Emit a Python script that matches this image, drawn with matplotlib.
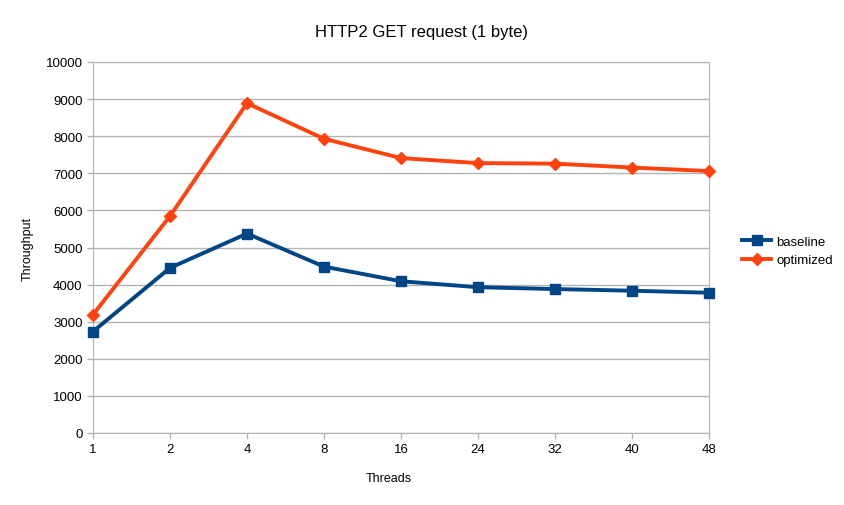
import matplotlib
matplotlib.use("Agg")
import matplotlib.pyplot as plt

plt.rcParams['font.family'] = ['Liberation Sans', 'DejaVu Sans']

# data
threads = ['1', '2', '4', '8', '16', '24', '32', '40', '48']
baseline = [2735, 4450, 5375, 4485, 4090, 3930, 3880, 3835, 3780]
optimized = [3190, 5845, 8890, 7930, 7410, 7275, 7260, 7155, 7060]

fig = plt.figure(figsize=(8.45, 5.06), dpi=100)
ax = fig.add_axes([93/845, 1 - 434/506, (709-93)/845, (434-63)/506])

x = range(len(threads))
ax.plot(x, baseline, color='#004586', lw=2.8, marker='s', ms=7.5, label='baseline', clip_on=False, zorder=3)
ax.plot(x, optimized, color='#ff420e', lw=2.8, marker='D', ms=6, label='optimized', clip_on=False, zorder=3)

ax.set_xlim(0, len(threads) - 1)
ax.set_ylim(0, 10000)
ax.set_xticks(list(x))
ax.set_xticklabels(threads)
ax.set_yticks(range(0, 10001, 1000))
ax.yaxis.grid(True, color='#b3b3b3', lw=1)
ax.set_axisbelow(True)
ax.spines['top'].set_visible(False)
for s in ['left', 'bottom', 'right']:
    ax.spines[s].set_color('#b3b3b3')
ax.tick_params(colors='#b3b3b3', labelcolor='black', labelsize=9.5, length=4, width=1)

fig.text(422/845, 1 - 32/506, 'HTTP2 GET request (1 byte)', fontsize=12, ha='center', va='center')
fig.text(389/845, 1 - 479/506, 'Threads', fontsize=9, ha='center', va='center')
fig.text(28/845, 1 - 249/506, 'Throughput', fontsize=9, ha='center', va='center', rotation=90)

fig.legend(loc='center left', bbox_to_anchor=(742/845, 1 - 252/506), frameon=False,
           fontsize=9.5, handlelength=2.2, handletextpad=0.4, labelspacing=0.45,
           borderpad=0, borderaxespad=0)

fig.savefig('out.png', dpi=100)
